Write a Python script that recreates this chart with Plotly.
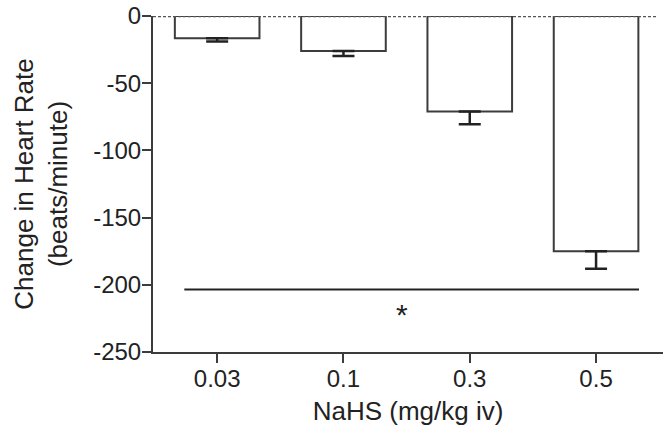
import plotly.graph_objects as go

categories = ["0.03", "0.1", "0.3", "0.5"]
hr_change = [-16.5, -26, -71, -175]
sem = [2.5, 3.7, 9.5, 13]
y_ticks = [0, -50, -100, -150, -200, -250]
y_tick_labels = ["0", "-50", "-100", "-150", "-200", "-250"]
sig_y = -203.5
sig_x = [-0.26, 3.34]
star_pos = (1.46, -222)

axis_col = "#3c3c3c"
font_family = "Liberation Sans, Arial, sans-serif"

fig = go.Figure()
fig.add_trace(go.Bar(
    x=categories, y=hr_change, width=0.67,
    marker=dict(color="white", line=dict(color=axis_col, width=2)),
    error_y=dict(type="data", symmetric=False, array=[0] * len(sem), arrayminus=sem,
                 color="#222222", thickness=2.5, width=11),
    showlegend=False,
))

fig.add_shape(type="line", xref="paper", yref="y", x0=0, x1=0.99, y0=0, y1=0,
              line=dict(color="#555555", width=2.5, dash="3px,2px"))
fig.add_shape(type="line", xref="x", yref="y", x0=sig_x[0], x1=sig_x[1], y0=sig_y, y1=sig_y,
              line=dict(color="#222222", width=2))
fig.add_annotation(x=star_pos[0], y=star_pos[1], text="*", showarrow=False,
                   font=dict(size=30, color="#222222", family=font_family))

fig.update_layout(
    width=665, height=438,
    margin=dict(l=153, r=2, t=16, b=86),
    plot_bgcolor="white", paper_bgcolor="white",
    font=dict(family=font_family, color="#222222", size=24),
    xaxis=dict(
        type="category", categoryorder="array", categoryarray=categories,
        range=[-0.508, 3.53], showline=True, linecolor=axis_col, linewidth=2,
        ticks="outside", ticklen=9, tickwidth=2, tickcolor=axis_col,
        showgrid=False, zeroline=False, automargin=False,
        tickfont=dict(size=24), ticklabelstandoff=-5,
        title=dict(text="NaHS (mg/kg iv)", font=dict(size=26), standoff=11),
    ),
    yaxis=dict(
        range=[-250, 0], tickvals=y_ticks, ticktext=y_tick_labels,
        showline=True, linecolor=axis_col, linewidth=2,
        ticks="outside", ticklen=9, tickwidth=2, tickcolor=axis_col,
        showgrid=False, zeroline=False, automargin=False,
        tickfont=dict(size=24), ticklabelstandoff=-4,
        title=dict(text="Change in Heart Rate<br>(beats/minute)", font=dict(size=26), standoff=18),
    ),
)

fig.write_html("out.html", config={"displayModeBar": False},
               post_script="document.body.style.margin='0';document.body.style.overflow='hidden';")
